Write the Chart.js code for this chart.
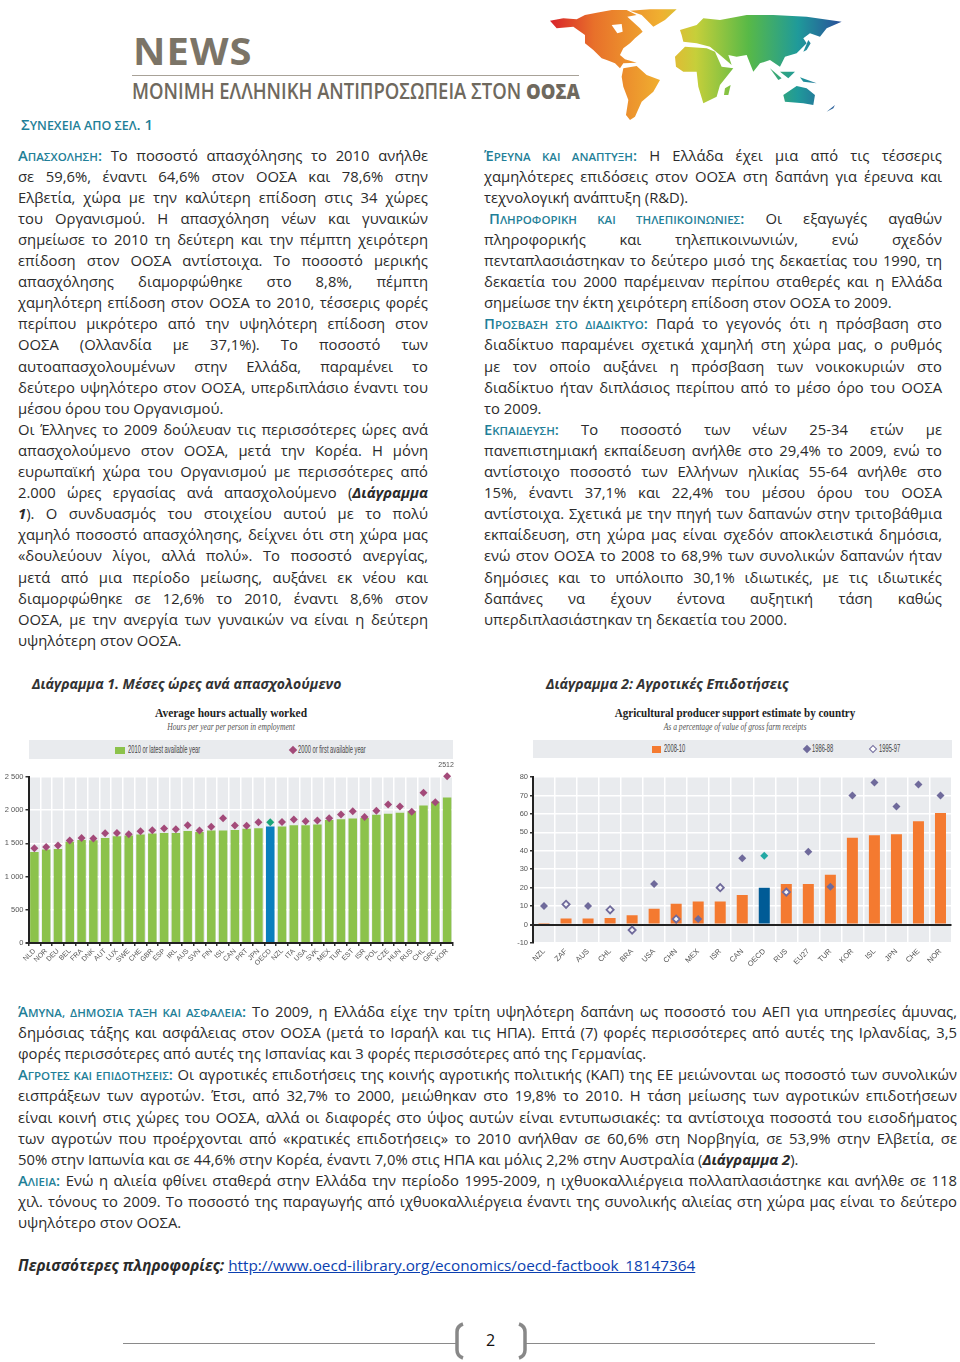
<!DOCTYPE html>
<html lang="el">
<head>
<meta charset="utf-8">
<title>News - ΟΟΣΑ</title>
<script src="https://cdn.jsdelivr.net/npm/chart.js@4"></script>
<style>
html, body { margin: 0; padding: 0; background: #fff; }
body { position: relative; width: 960px; height: 1362px; overflow: hidden; font-family: "Open Sans", sans-serif; color: #2b2b2b; }
.abs { position: absolute; white-space: nowrap; }
.line { position: absolute; font-size: 14.8px; line-height: 20px; height: 20px; white-space: nowrap; text-align: justify; text-align-last: justify; }
.line.end { text-align-last: left; }
.h { color: #1f7f98; font-weight: 600; }
.h small { font-size: 11.5px; }
.cap { font-weight: 700; font-style: italic; font-size: 14px; color: #333; }
.chart-title { font-family: "Liberation Serif", serif; font-weight: 700; font-size: 13px; color: #222; transform: translateX(-50%) scaleX(.85); }
.chart-sub { font-family: "Liberation Serif", serif; font-style: italic; font-size: 10px; color: #555; transform: translateX(-50%) scaleX(.76); }
.band { position: absolute; background: #e9ebee; }
.leg { font-family: "Liberation Sans", sans-serif; font-size: 10.5px; color: #444; transform: scaleX(.55); transform-origin: left; }
.swatch { position: absolute; }
.dia { position: absolute; width: 6px; height: 6px; transform: rotate(45deg); box-sizing: border-box; }
canvas { position: absolute; }
a { color: #0b3fb0; }
</style>
</head>
<body>

<!-- Logo -->
<div class="abs" style="left:133px;top:24px;font-size:38px;font-weight:700;letter-spacing:1px;color:#7b7467;transform:scaleX(1.05);transform-origin:left">NEWS</div>
<div class="abs" style="left:132px;top:75px;width:447px;height:1px;background:#a8a298"></div>
<div class="abs" style="left:132px;top:77px;font-size:21px;font-weight:600;color:#6f695e;transform:scaleX(.879);transform-origin:left">ΜΟΝΙΜΗ ΕΛΛΗΝΙΚΗ ΑΝΤΙΠΡΟΣΩΠΕΙΑ ΣΤΟΝ <b>ΟΟΣΑ</b></div>
<svg class="abs" style="left:0;top:0" width="960" height="130">
  <defs>
    <linearGradient id="rainbow" gradientUnits="userSpaceOnUse" x1="30" y1="0" x2="905" y2="0">
      <stop offset="0" stop-color="#d8232a"/>
      <stop offset="0.15" stop-color="#e8702a"/>
      <stop offset="0.38" stop-color="#f0b030"/>
      <stop offset="0.5" stop-color="#c6cf3a"/>
      <stop offset="0.68" stop-color="#58b947"/>
      <stop offset="0.85" stop-color="#1f9a9a"/>
      <stop offset="1" stop-color="#2a4f9a"/>
    </linearGradient>
  </defs>
  <g transform="translate(540,0) scale(0.3333)" fill="url(#rainbow)">
    <polygon points="30,62 70,55 110,58 135,45 170,38 215,30 260,30 290,45 262,50 300,85 308,95 285,115 270,130 250,145 240,165 255,178 290,188 250,190 240,205 225,190 200,180 185,175 160,150 135,130 135,105 100,80 50,85"/>
    <polygon fill="#fff" points="215,75 245,72 248,95 232,100"/>
    <polygon points="270,32 330,28 410,28 375,60 340,80 320,60 305,45"/>
    <polygon points="250,205 290,198 320,225 360,240 340,275 305,305 285,350 270,360 258,345 265,300 250,260 245,230"/>
    <polygon points="420,90 470,75 490,55 540,60 620,45 700,45 800,50 905,65 860,85 840,110 810,100 790,115 800,130 770,160 735,170 720,200 690,180 660,190 640,215 620,165 590,170 565,165 575,195 540,165 510,140 470,130 430,125 425,105"/>
    <polygon points="405,170 435,140 500,145 525,155 545,200 580,205 540,255 530,290 490,310 475,260 470,215 430,215 408,200"/>
    <polygon points="555,265 572,255 565,285 552,285"/>
    <polygon points="730,285 770,258 800,265 825,285 820,315 790,310 735,305"/>
    <polygon points="860,335 885,315 880,325"/>
    <polygon points="790,155 805,120 812,130 800,150"/>
    <polygon points="690,205 725,235 715,240"/>
    <polygon points="720,215 765,215 745,235"/>
    <polygon points="780,232 830,250 790,245"/>
  </g>
</svg>
<div class="abs h" style="left:21px;top:114px;font-size:15px;line-height:20px">Σ<small style="font-size:12.5px">ΥΝΕΧΕΙΑ ΑΠΟ ΣΕΛ</small>. 1</div>

<div id="text"></div>

<!-- Chart 1 -->
<div class="abs cap" style="left:32px;top:674px">Διάγραμμα 1. Μέσες ώρες ανά απασχολούμενο</div>
<div class="abs chart-title" style="left:231px;top:705px;transform:translateX(-50%) scaleX(.88)">Average hours actually worked</div>
<div class="abs chart-sub" style="left:231px;top:721px">Hours per year per person in employment</div>
<div class="band" style="left:29px;top:740px;width:424px;height:19px"></div>
<div class="swatch" style="left:115px;top:747px;width:10px;height:7px;background:#8cc24b"></div>
<div class="abs leg" style="left:128px;top:743px">2010 or latest available year</div>
<div class="dia" style="left:290px;top:747px;background:#a34a79"></div>
<div class="abs leg" style="left:298px;top:743px">2000 or first available year</div>
<canvas id="chartHours" width="480" height="210" style="left:0;top:760px"></canvas>

<!-- Chart 2 -->
<div class="abs cap" style="left:546px;top:674px">Διάγραμμα 2: Αγροτικές Επιδοτήσεις</div>
<div class="abs chart-title" style="left:735px;top:705px">Agricultural producer support estimate by country</div>
<div class="abs chart-sub" style="left:735px;top:721px">As a percentage of value of gross farm receipts</div>
<div class="band" style="left:533px;top:740px;width:419px;height:18px"></div>
<div class="swatch" style="left:652px;top:746px;width:9px;height:7px;background:#f47a30"></div>
<div class="abs leg" style="left:664px;top:742px">2008-10</div>
<div class="dia" style="left:804px;top:746px;background:#6f6a9b"></div>
<div class="abs leg" style="left:812px;top:742px">1986-88</div>
<div class="dia" style="left:870px;top:746px;background:#fff;border:1.5px solid #6f6a9b"></div>
<div class="abs leg" style="left:879px;top:742px">1995-97</div>
<canvas id="chartSupport" width="480" height="210" style="left:480px;top:760px"></canvas>

<!-- Link -->
<div class="abs" style="left:18px;top:1255px;font-size:15.3px;line-height:20px"><b><i>Περισσότερες πληροφορίες:</i></b> <a href="#">http://www.oecd-ilibrary.org/economics/oecd-factbook_18147364</a></div>

<!-- Footer -->
<div class="abs" style="left:123px;top:1343px;width:333px;height:1px;background:#8a8a8a"></div>
<div class="abs" style="left:525px;top:1343px;width:350px;height:1px;background:#8a8a8a"></div>
<svg class="abs" style="left:0;top:1310px" width="960" height="52" fill="none" stroke="#888" stroke-width="3.5">
  <path d="M463 14 Q457 16 457 22 L457 40 Q457 46 463 48"/>
  <path d="M519 14 Q525 16 525 22 L525 40 Q525 46 519 48"/>
</svg>
<div class="abs" style="left:486px;top:1330px;font-size:16px;line-height:20px;color:#111">2</div>

<script>
// Δεδομένα διαγράμματος 1
const hoursCountries = ['NLD','NOR','DEU','BEL','FRA','DNK','AUT','LUX','SWE','CHE','GBR','ESP','IRL','AUS','SVN','FIN','ISL','CAN','PRT','JPN','OECD','NZL','ITA','USA','SVK','MEX','TUR','EST','ISR','POL','CZE','HUN','RUS','CHL','GRC','KOR'];
const hoursLatest = [1372,1407,1417,1523,1553,1548,1583,1608,1618,1633,1648,1658,1658,1688,1673,1693,1693,1703,1719,1729,1754,1754,1774,1774,1784,1854,1864,1874,1884,1930,1945,1960,1985,2070,2126,2193];
const hoursFirst = [1427,1447,1467,1543,1583,1573,1653,1658,1638,1683,1698,1724,1714,1774,1693,1749,1879,1769,1764,1819,1819,1824,1859,1834,1844,1879,1935,1985,1899,1990,2085,2055,1975,2261,2121,2512];
const hoursTicks = [0,500,1000,1500,2000,2500];

// Δεδομένα διαγράμματος 2
const supportCountries = ['NZL','ZAF','AUS','CHL','BRA','USA','CHN','MEX','ISR','CAN','OECD','RUS','EU27','TUR','KOR','ISL','JPN','CHE','NOR'];
const support2008 = [0.8,3.3,3.3,3.5,5,8.6,11.3,12.5,12.5,16,20,22,22,27,47,48.4,49,56,60.5];
const support1986 = [10,null,10,null,null,22,null,3,null,36,37.3,null,39.5,20.5,70,77,64,76,70];
const support1995 = [null,11,null,8,-3,null,3,null,20,null,null,17.6,null,null,null,null,null,null,null];

// Κείμενο
const leftLines = [
  '<span class="h">Α<small>ΠΑΣΧΟΛΗΣΗ</small>:</span> Το ποσοστό απασχόλησης το 2010 ανήλθε',
  'σε 59,6%, έναντι 64,6% στον ΟΟΣΑ και 78,6% στην',
  'Ελβετία, χώρα με την καλύτερη επίδοση στις 34 χώρες',
  'του Οργανισμού. Η απασχόληση νέων και γυναικών',
  'σημείωσε το 2010 τη δεύτερη και την πέμπτη χειρότερη',
  'επίδοση στον ΟΟΣΑ αντίστοιχα. Το ποσοστό μερικής',
  'απασχόλησης διαμορφώθηκε στο 8,8%, πέμπτη',
  'χαμηλότερη επίδοση στον ΟΟΣΑ το 2010, τέσσερις φορές',
  'περίπου μικρότερο από την υψηλότερη επίδοση στον',
  'ΟΟΣΑ (Ολλανδία με 37,1%). Το ποσοστό των',
  'αυτοαπασχολουμένων στην Ελλάδα, παραμένει το',
  'δεύτερο υψηλότερο στον ΟΟΣΑ, υπερδιπλάσιο έναντι του',
  '!μέσου όρου του Οργανισμού.',
  'Οι Έλληνες το 2009 δούλευαν τις περισσότερες ώρες ανά',
  'απασχολούμενο στον ΟΟΣΑ, μετά την Κορέα. Η μόνη',
  'ευρωπαϊκή χώρα του Οργανισμού με περισσότερες από',
  '2.000 ώρες εργασίας ανά απασχολούμενο (<b><i>Διάγραμμα</i></b>',
  '<b><i>1</i></b>). Ο συνδυασμός του στοιχείου αυτού με το πολύ',
  'χαμηλό ποσοστό απασχόλησης, δείχνει ότι στη χώρα μας',
  '«δουλεύουν λίγοι, αλλά πολύ». Το ποσοστό ανεργίας,',
  'μετά από μια περίοδο μείωσης, αυξάνει εκ νέου και',
  'διαμορφώθηκε σε 12,6% το 2010, έναντι 8,6% στον',
  'ΟΟΣΑ, με την ανεργία των γυναικών να είναι η δεύτερη',
  '!υψηλότερη στον ΟΟΣΑ.'
];
const rightLines = [
  '<span class="h">Έ<small>ΡΕΥΝΑ ΚΑΙ ΑΝΑΠΤΥΞΗ</small>:</span> Η Ελλάδα έχει μια από τις τέσσερις',
  'χαμηλότερες επιδόσεις στον ΟΟΣΑ στη δαπάνη για έρευνα και',
  '!τεχνολογική ανάπτυξη (R&amp;D).',
  '<span class="h" style="margin-left:5px">Π<small>ΛΗΡΟΦΟΡΙΚΗ ΚΑΙ ΤΗΛΕΠΙΚΟΙΝΩΝΙΕΣ</small>:</span> Οι εξαγωγές αγαθών',
  'πληροφορικής και τηλεπικοινωνιών, ενώ σχεδόν',
  'πενταπλασιάστηκαν το δεύτερο μισό της δεκαετίας του 1990, τη',
  'δεκαετία του 2000 παρέμειναν περίπου σταθερές και η Ελλάδα',
  '!σημείωσε την έκτη χειρότερη επίδοση στον ΟΟΣΑ το 2009.',
  '<span class="h">Π<small>ΡΟΣΒΑΣΗ ΣΤΟ ΔΙΑΔΙΚΤΥΟ</small>:</span> Παρά το γεγονός ότι η πρόσβαση στο',
  'διαδίκτυο παραμένει σχετικά χαμηλή στη χώρα μας, ο ρυθμός',
  'με τον οποίο αυξάνει η πρόσβαση των νοικοκυριών στο',
  'διαδίκτυο ήταν διπλάσιος περίπου από το μέσο όρο του ΟΟΣΑ',
  '!το 2009.',
  '<span class="h">Ε<small>ΚΠΑΙΔΕΥΣΗ</small>:</span> Το ποσοστό των νέων 25-34 ετών με',
  'πανεπιστημιακή εκπαίδευση ανήλθε στο 29,4% το 2009, ενώ το',
  'αντίστοιχο ποσοστό των Ελλήνων ηλικίας 55-64 ανήλθε στο',
  '15%, έναντι 37,1% και 22,4% του μέσου όρου του ΟΟΣΑ',
  'αντίστοιχα. Σχετικά με την πηγή των δαπανών στην τριτοβάθμια',
  'εκπαίδευση, στη χώρα μας είναι σχεδόν αποκλειστικά δημόσια,',
  'ενώ στον ΟΟΣΑ το 2008 το 68,9% των συνολικών δαπανών ήταν',
  'δημόσιες και το υπόλοιπο 30,1% ιδιωτικές, με τις ιδιωτικές',
  'δαπάνες να έχουν έντονα αυξητική τάση καθώς',
  '!υπερδιπλασιάστηκαν τη δεκαετία του 2000.'
];
const bottomLines = [
  '<span class="h">Ά<small>ΜΥΝΑ, ΔΗΜΟΣΙΑ ΤΑΞΗ ΚΑΙ ΑΣΦΑΛΕΙΑ</small>:</span> Το 2009, η Ελλάδα είχε την τρίτη υψηλότερη δαπάνη ως ποσοστό του ΑΕΠ για υπηρεσίες άμυνας,',
  'δημόσιας τάξης και ασφάλειας στον ΟΟΣΑ (μετά το Ισραήλ και τις ΗΠΑ). Επτά (7) φορές περισσότερες από αυτές της Ιρλανδίας, 3,5',
  '!φορές περισσότερες από αυτές της Ισπανίας και 3 φορές περισσότερες από της Γερμανίας.',
  '<span class="h">Α<small>ΓΡΟΤΕΣ ΚΑΙ ΕΠΙΔΟΤΗΣΕΙΣ</small>:</span> Οι αγροτικές επιδοτήσεις της κοινής αγροτικής πολιτικής (ΚΑΠ) της ΕΕ μειώνονται ως ποσοστό των συνολικών',
  'εισπράξεων των αγροτών. Έτσι, από 32,7% το 2000, μειώθηκαν στο 19,8% το 2010. Η τάση μείωσης των αγροτικών επιδοτήσεων',
  'είναι κοινή στις χώρες του ΟΟΣΑ, αλλά οι διαφορές στο ύψος αυτών είναι εντυπωσιακές: τα αντίστοιχα ποσοστά του εισοδήματος',
  'των αγροτών που προέρχονται από «κρατικές επιδοτήσεις» το 2010 ανήλθαν σε 60,6% στη Νορβηγία, σε 53,9% στην Ελβετία, σε',
  '!50% στην Ιαπωνία και σε 44,6% στην Κορέα, έναντι 7,0% στις ΗΠΑ και μόλις 2,2% στην Αυστραλία (<b><i>Διάγραμμα 2</i></b>).',
  '<span class="h">Α<small>ΛΙΕΙΑ</small>:</span> Ενώ η αλιεία φθίνει σταθερά στην Ελλάδα την περίοδο 1995-2009, η ιχθυοκαλλιέργεια πολλαπλασιάστηκε και ανήλθε σε 118',
  'χιλ. τόνους το 2009. Το ποσοστό της παραγωγής από ιχθυοκαλλιέργεια έναντι της συνολικής αλιείας στη χώρα μας είναι το δεύτερο',
  '!υψηλότερο στον ΟΟΣΑ.'
];

// Γράφει τις γραμμές κειμένου
function addLines(lines, left, width, top) {
    const box = document.getElementById('text');
    lines.forEach(function(str, i) {
        const el = document.createElement('div');
        const isEnd = str.charAt(0) === '!';
        el.className = isEnd ? 'line end' : 'line';
        el.innerHTML = isEnd ? str.substring(1) : str;
        el.style.left = left + 'px';
        el.style.width = width + 'px';
        el.style.top = (top + i * 21.1 - 10) + 'px';
        box.appendChild(el);
    });
}

addLines(leftLines, 18, 410, 154.5);
addLines(rightLines, 484, 458, 154.5);
addLines(bottomLines, 18, 939, 1011);

// Γκρι φόντο της περιοχής σχεδίασης και ετικέτες
const plotBackground = {
    id: 'plotBackground',
    beforeDraw(chart) {
        const a = chart.chartArea;
        chart.ctx.fillStyle = chart.options.plugins.plotBackground.color;
        chart.ctx.fillRect(a.left, a.top, a.width, a.height);
    }
};

const topLabel = {
    id: 'topLabel',
    afterDraw(chart) {
        const cfg = chart.options.plugins.topLabel;
        if (!cfg.text) return;
        const x = chart.scales.x.getPixelForValue(cfg.index);
        const y = chart.scales.y.getPixelForValue(cfg.value);
        const ctx = chart.ctx;
        ctx.save();
        ctx.fillStyle = '#555';
        ctx.font = '7px "Liberation Sans", sans-serif';
        ctx.textAlign = 'center';
        ctx.fillText(cfg.text, x - 1, y - 9);
        ctx.restore();
    }
};

function baseOptions(leftWidth, rightPad, topPad, yMin, yMax, yStep, xFontSize) {
    return {
        responsive: false,
        animation: false,
        layout: { padding: { top: topPad, right: rightPad, left: 0, bottom: 0 } },
        plugins: {
            legend: { display: false },
            tooltip: { enabled: false },
            plotBackground: { color: '#e9ebee' },
            topLabel: {}
        },
        scales: {
            x: {
                offset: true,
                grid: { color: '#ffffff', lineWidth: 1.5, offset: true, drawTicks: true, tickColor: '#333', tickLength: 3 },
                border: { color: '#222', width: 2 },
                ticks: {
                    autoSkip: false,
                    maxRotation: 45,
                    minRotation: 45,
                    padding: 1,
                    color: '#555',
                    font: { family: '"Liberation Sans", sans-serif', size: xFontSize }
                },
                afterFit(scale) { scale.height = 27; }
            },
            y: {
                min: yMin,
                max: yMax,
                ticks: {
                    stepSize: yStep,
                    padding: 2,
                    color: '#555',
                    font: { family: '"Liberation Sans", sans-serif', size: 7.5 }
                },
                grid: {
                    lineWidth: function(ctx) { return ctx.tick.value === 0 ? 2 : 1.5; },
                    color: function(ctx) { return ctx.tick.value === 0 ? '#222' : '#ffffff'; },
                    tickColor: '#333',
                    tickLength: 3
                },
                border: { color: '#222', width: 2 },
                afterFit(scale) { scale.width = leftWidth; }
            }
        }
    };
}

// Διάγραμμα 1
const hoursOptions = baseOptions(28.5, 27, 17, hoursTicks[0], hoursTicks[hoursTicks.length - 1], 500, 7);
hoursOptions.scales.y.ticks.callback = function(v) {
    return v >= 1000 ? String(v).replace(/(\d)(\d{3})$/, '$1 $2') : v;
};
hoursOptions.plugins.topLabel = { text: '2512', index: hoursCountries.length - 1, value: 2512 };

new Chart(document.getElementById('chartHours'), {
    type: 'bar',
    data: {
        labels: hoursCountries,
        datasets: [
            {
                type: 'line',
                label: '2000 or first available year',
                data: hoursFirst,
                showLine: false,
                clip: false,
                pointStyle: 'rectRot',
                pointRadius: 4,
                pointBorderWidth: 0,
                pointBackgroundColor: hoursCountries.map(c => c === 'OECD' ? '#1aa579' : '#a34a79'),
                order: 1
            },
            {
                label: '2010 or latest available year',
                data: hoursLatest,
                backgroundColor: hoursCountries.map(c => c === 'OECD' ? '#0a7fbd' : '#8cc24b'),
                barPercentage: 0.72,
                categoryPercentage: 1,
                order: 2
            }
        ]
    },
    options: hoursOptions,
    plugins: [plotBackground, topLabel]
});

// Διάγραμμα 2
const supportOptions = baseOptions(53, 8.5, 17, -10, 80, 10, 7.5);
supportOptions.scales.x.grid.drawTicks = false;
supportOptions.scales.x.border.display = false;
supportOptions.scales.x.ticks.padding = 4;

new Chart(document.getElementById('chartSupport'), {
    type: 'bar',
    data: {
        labels: supportCountries,
        datasets: [
            {
                type: 'line',
                label: '1986-88',
                data: support1986,
                showLine: false,
                pointStyle: 'rectRot',
                pointRadius: 4,
                pointBorderWidth: 0,
                pointBackgroundColor: supportCountries.map(c => c === 'OECD' ? '#22a8a4' : '#6f6a9b'),
                order: 1
            },
            {
                type: 'line',
                label: '1995-97',
                data: support1995,
                showLine: false,
                pointStyle: 'rectRot',
                pointRadius: 3.6,
                pointBorderWidth: 1.8,
                pointBorderColor: '#6f6a9b',
                pointBackgroundColor: '#f4f4f8',
                order: 1
            },
            {
                label: '2008-10',
                data: support2008,
                backgroundColor: supportCountries.map(c => c === 'OECD' ? '#005b96' : '#f47a30'),
                barPercentage: 0.5,
                categoryPercentage: 1,
                order: 2
            }
        ]
    },
    options: supportOptions,
    plugins: [plotBackground]
});
</script>
</body>
</html>
